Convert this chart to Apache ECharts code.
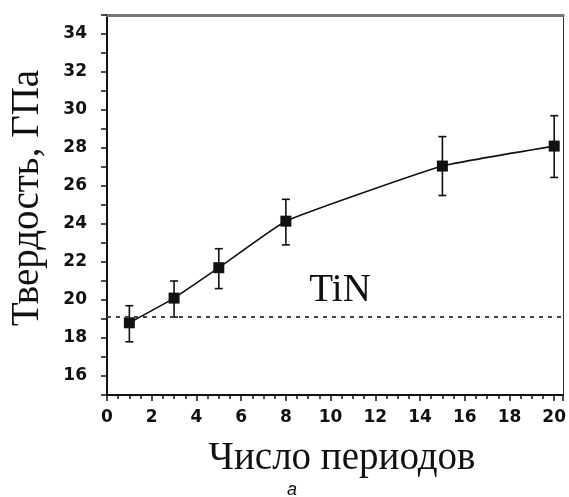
<!DOCTYPE html>
<html><head><meta charset="utf-8">
<script src="https://cdn.jsdelivr.net/npm/echarts@6/dist/echarts.min.js"></script>
<style>html,body{margin:0;padding:0;background:#fff}#c{width:569px;height:497px}</style>
</head><body><div id="c"></div>
<script>
const periods = [1, 3, 5, 8, 15, 20];
const hardness = [18.8, 20.1, 21.7, 24.15, 27.05, 28.1];
const errLow = [17.8, 19.1, 20.6, 22.9, 25.5, 26.45];
const errHigh = [19.7, 21.0, 22.7, 25.3, 28.6, 29.7];
const tinLevel = 19.1;
const xTitle = 'Число периодов';
const yTitle = 'Твердость, ГПа';
const tinLabel = 'TiN';
const caption = 'а';

const serif = '"Liberation Serif", "Times New Roman", serif';
const sans = '"DejaVu Sans", sans-serif';

const chart = echarts.init(document.getElementById('c'), null, {renderer: 'canvas'});
chart.setOption({
  backgroundColor: '#fff',
  animation: false,
  grid: {left: 106, right: 2, top: 15, bottom: 102},
  xAxis: [{
    type: 'value', min: 0, max: 20.4, interval: 2,
    name: xTitle, nameLocation: 'middle', nameGap: 44,
    nameTextStyle: {fontFamily: serif, fontSize: 39, color: '#111', padding: [0, 0, 0, 14]},
    axisLine: {show: true, onZero: false, lineStyle: {color: '#111', width: 2}},
    axisTick: {show: true, length: 6, lineStyle: {color: '#111', width: 1.5}},
    minorTick: {show: true, splitNumber: 4, length: 4, lineStyle: {color: '#111', width: 1.5}},
    splitLine: {show: false},
    axisLabel: {fontFamily: sans, fontWeight: 'bold', fontSize: 17, color: '#111', margin: 14,
      formatter: v => (Math.abs(v % 2) < 1e-9 ? String(v) : '')}
  }, {
    type: 'value', position: 'top', min: 0, max: 20.4,
    axisLine: {show: true, onZero: false, lineStyle: {color: '#777', width: 3}},
    axisTick: {show: false}, axisLabel: {show: false}, splitLine: {show: false}
  }],
  yAxis: [{
    type: 'value', min: 15, max: 35, interval: 1,
    name: yTitle, nameLocation: 'middle', nameGap: 60, nameRotate: 90,
    nameTextStyle: {fontFamily: serif, fontSize: 39, color: '#111', padding: [0, 0, 0, 14]},
    axisLine: {show: true, onZero: false, lineStyle: {color: '#111', width: 2}},
    axisTick: {show: true, length: 6, lineStyle: {color: '#111', width: 1.5}},
    splitLine: {show: false},
    axisLabel: {fontFamily: sans, fontWeight: 'bold', fontSize: 17, color: '#111', margin: 20,
      formatter: v => (v % 2 === 0 && v > 15 && v < 35 ? String(v) : '')}
  }, {
    type: 'value', position: 'right', min: 15, max: 35,
    axisLine: {show: true, onZero: false, lineStyle: {color: '#333', width: 1}},
    axisTick: {show: false}, axisLabel: {show: false}, splitLine: {show: false}
  }],
  graphic: [{
    type: 'text', left: 287, top: 481,
    style: {text: caption, font: 'italic 18px "Liberation Sans", sans-serif', fill: '#111'}
  }],
  series: [{
    type: 'custom',
    name: 'err',
    data: periods.map((p, i) => [p, errLow[i], errHigh[i]]),
    renderItem: function (params, api) {
      const x = api.value(0);
      const lo = api.coord([x, api.value(1)]);
      const hi = api.coord([x, api.value(2)]);
      const w = 4;
      const st = {stroke: '#111', lineWidth: 1.6};
      return {type: 'group', children: [
        {type: 'line', shape: {x1: lo[0], y1: lo[1], x2: hi[0], y2: hi[1]}, style: st},
        {type: 'line', shape: {x1: lo[0] - w, y1: lo[1], x2: lo[0] + w, y2: lo[1]}, style: st},
        {type: 'line', shape: {x1: hi[0] - w, y1: hi[1], x2: hi[0] + w, y2: hi[1]}, style: st}
      ]};
    },
    z: 2
  }, {
    type: 'line',
    data: periods.map((p, i) => [p, hardness[i]]),
    smooth: 0.12,
    symbol: 'rect', symbolSize: 11,
    itemStyle: {color: '#111'},
    lineStyle: {color: '#111', width: 1.6},
    z: 3,
    markLine: {
      silent: true, symbol: 'none',
      lineStyle: {color: '#444', width: 2, type: [4, 5]},
      label: {show: true, formatter: tinLabel, position: 'insideMiddleTop', distance: 7,
        fontFamily: serif, fontSize: 39, color: '#111', padding: [0, 0, 0, 10]},
      data: [{yAxis: tinLevel}]
    }
  }]
});
</script>
</body></html>
